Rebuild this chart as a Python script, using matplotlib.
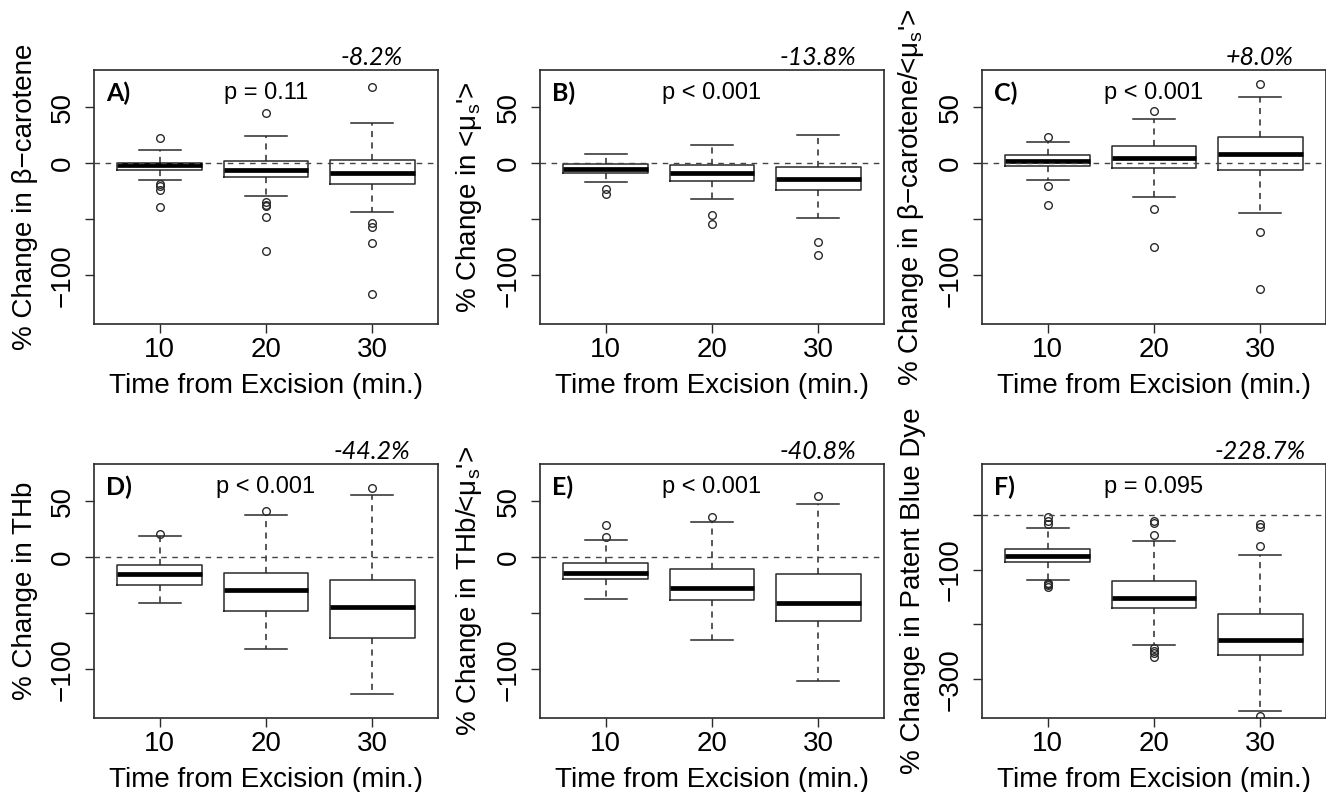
import matplotlib
matplotlib.use("Agg")
import matplotlib.pyplot as plt

# ---------------- data ----------------
times = [10, 20, 30]

# per group: (lower whisker, Q1, median, Q3, upper whisker)
a_stats = [(-14.6, -6.3, -1.8, 0.5, 11.7), (-29.0, -12.5, -5.7, 2.1, 24.2), (-43.6, -18.5, -8.2, 2.7, 35.8)]
a_fliers = [[23.0, -18.0, -20.3, -24.0, -39.1], [45.4, -34.9, -36.7, -38.2, -47.8, -77.9], [68.0, -53.1, -56.7, -71.3, -116.7]]

b_stats = [(-16.4, -8.4, -5.1, -0.9, 8.1), (-32.2, -15.8, -9.0, -1.5, 16.4), (-49.0, -23.6, -13.8, -3.0, 25.1)]
b_fliers = [[-23.0, -26.9], [-46.3, -53.7], [-69.9, -81.8]]

c_stats = [(-14.6, -2.1, 2.4, 7.5, 19.4), (-29.6, -3.9, 5.1, 15.8, 39.4), (-44.2, -6.3, 8.0, 23.9, 59.4)]
c_fliers = [[23.6, -20.3, -37.3], [47.2, -40.9, -74.9], [71.0, -61.2, -112.2]]

d_stats = [(-40.4, -24.3, -14.4, -6.6, 18.9), (-81.4, -47.9, -29.3, -13.5, 37.7), (-121.9, -72.2, -44.2, -20.4, 56.0)]
d_fliers = [[21.0], [41.3], [62.0]]

e_stats = [(-37.4, -19.5, -13.5, -5.4, 15.6), (-73.4, -38.3, -27.2, -10.2, 31.7), (-110.8, -56.9, -40.8, -15.0, 47.3)]
e_fliers = [[18.3, 29.3], [36.5], [54.5]]

f_stats = [(-119.8, -86.3, -75.4, -62.0, -23.7), (-238.3, -170.2, -151.4, -121.0, -48.6), (-358.0, -255.9, -228.7, -181.2, -72.9)]
f_fliers = [[-3.6, -10.9, -17.0, -124.0, -126.4, -128.9, -131.3],
            [-12.2, -14.6, -37.7, -243.8, -248.0, -252.9, -259.0],
            [-17.6, -21.9, -56.5, -367.0]]

letters = ["A)", "B)", "C)", "D)", "E)", "F)"]
pvals = ["p = 0.11", "p < 0.001", "p < 0.001", "p < 0.001", "p < 0.001", "p = 0.095"]
changes = ["-8.2%", "-13.8%", "+8.0%", "-44.2%", "-40.8%", "-228.7%"]
ylabels = ["% Change in \u03b2\u2212carotene",
           "% Change in <\u03bc$_\\mathregular{s}$'>",
           "% Change in \u03b2\u2212carotene/<\u03bc$_\\mathregular{s}$'>",
           "% Change in THb",
           "% Change in THb/<\u03bc$_\\mathregular{s}$'>",
           "% Change in Patent Blue Dye"]

plt.rcParams['font.family'] = ['Liberation Sans', 'DejaVu Sans']
plt.rcParams['mathtext.fontset'] = 'custom'
plt.rcParams['mathtext.rm'] = 'Liberation Sans'

DARK = '#2a2a2a'


def make_stats(stats, fliers):
    out = []
    for (lo, q1, med, q3, hi), fl in zip(stats, fliers):
        out.append(dict(whislo=lo, q1=q1, med=med, q3=q3, whishi=hi, fliers=fl))
    return out


def draw_panel(ax, stats, fliers, letter, ptxt, chg, ylab, ylim, yticks, yticklabels):
    ax.bxp(make_stats(stats, fliers), positions=[1, 2, 3], widths=0.8, capwidths=0.4,
           showfliers=True,
           boxprops=dict(color=DARK, linewidth=1.1),
           medianprops=dict(color='black', linewidth=3.4, solid_capstyle='butt'),
           whiskerprops=dict(color=DARK, linewidth=1.1, linestyle=(0, (4, 3.5))),
           capprops=dict(color=DARK, linewidth=1.1),
           flierprops=dict(marker='o', markersize=5.5, markerfacecolor='none',
                           markeredgecolor=DARK, markeredgewidth=1.0))
    ax.axhline(0, color='#444444', linewidth=1.0, linestyle=(0, (4, 4)), zorder=3)
    ax.set_xlim(0.38, 3.62)
    ax.set_ylim(*ylim)
    ax.set_xticks([1, 2, 3])
    ax.set_xticklabels([str(t) for t in times], fontsize=20)
    ax.set_yticks(yticks)
    ax.set_yticklabels(yticklabels, fontsize=20, rotation=90, va='center')
    ax.tick_params(axis='both', length=6.5, width=1.0, color=DARK)
    ax.tick_params(axis='x', pad=3)
    ax.tick_params(axis='y', pad=6.5)
    for sp in ax.spines.values():
        sp.set_color(DARK)
        sp.set_linewidth(1.2)
    ax.set_xlabel("Time from Excision (min.)", fontsize=20, labelpad=7)
    ax.set_ylabel(ylab, fontsize=20, labelpad=8.5)
    ax.text(0.035, 0.91, letter, transform=ax.transAxes, ha='left', va='center',
            fontsize=18, fontweight='bold', family=['Lato', 'DejaVu Sans'])
    ax.text(2, 0.91, ptxt, transform=ax.get_xaxis_transform(), ha='center', va='center',
            fontsize=17)
    ax.text(3, 1.005, chg, transform=ax.get_xaxis_transform(), ha='center', va='bottom',
            fontsize=18, style='italic', family=['Lato', 'DejaVu Sans'])


fig = plt.figure(figsize=(13.26, 7.92), dpi=100)
W, H = 1326.0, 792.0
lefts = [94, 540, 982]
tops = [70, 464]
aw, ah = 344, 254

all_stats = [a_stats, b_stats, c_stats, d_stats, e_stats, f_stats]
all_fliers = [a_fliers, b_fliers, c_fliers, d_fliers, e_fliers, f_fliers]

std_ticks = [50, 0, -50, -100]
std_labels = ["50", "0", "", "\u2212100"]
f_ticks = [0, -100, -200, -300]
f_labels = ["", "\u2212100", "", "\u2212300"]

for i in range(6):
    r, c = divmod(i, 3)
    ax = fig.add_axes([lefts[c] / W, 1 - (tops[r] + ah) / H, aw / W, ah / H])
    if i == 5:
        ylim, yt, yl = (-370.8, 92.5), f_ticks, f_labels
    else:
        ylim, yt, yl = (-143.4, 83.4), std_ticks, std_labels
    draw_panel(ax, all_stats[i], all_fliers[i], letters[i], pvals[i], changes[i],
               ylabels[i], ylim, yt, yl)

fig.savefig("out.png", dpi=100)
